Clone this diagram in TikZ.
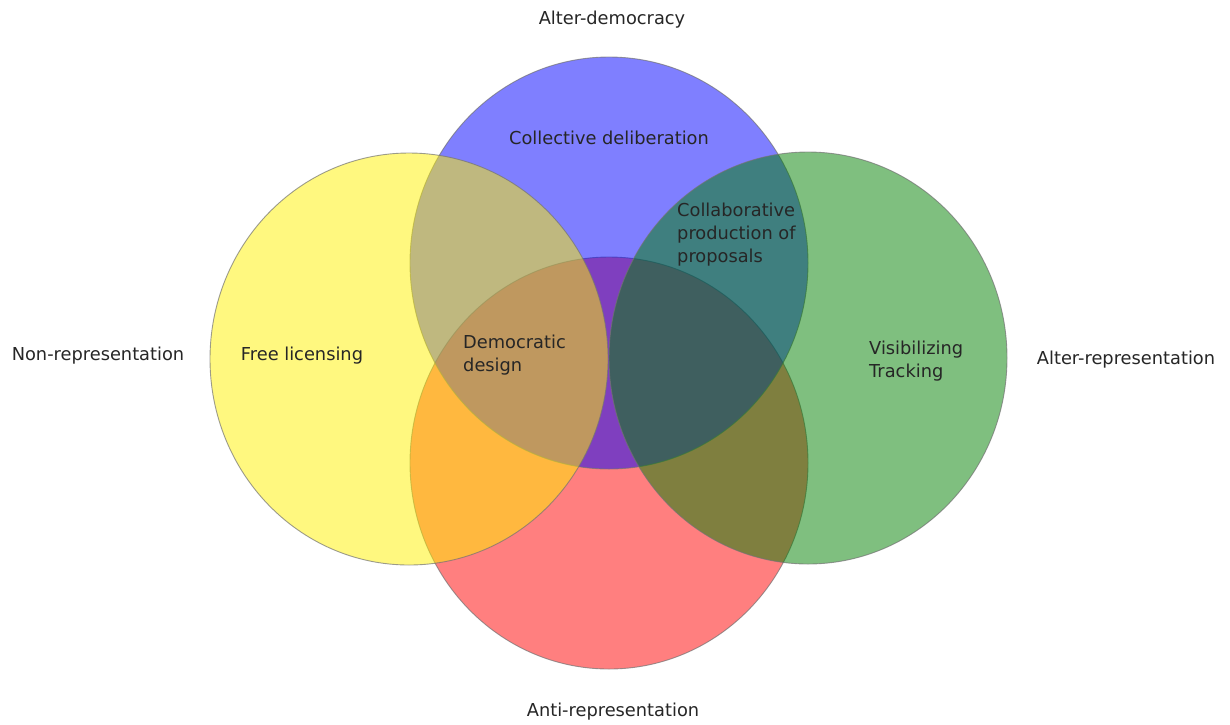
\documentclass[tikz,border=0pt]{standalone}
\usepackage{fontspec}
\setmainfont{DejaVu Sans}
\begin{document}
\begin{tikzpicture}[x=1pt, y=-1pt,
        venn/.style={draw=black!55, draw opacity=0.7, line width=0.9pt,
          fill opacity=0.5},
        lab/.style={font=\fontsize{17.8}{23}\selectfont, text=black!85,
          inner sep=0pt},
        inlab/.style={lab, align=left, anchor=west}
      ]
      \useasboundingbox (0,0) rectangle (1230,724);
      % circles, bottom to top
      \fill[white] (0,0) rectangle (1230,724);
      \draw[venn, fill=red]           (609,463) ellipse [x radius=199, y radius=206];
      \draw[venn, fill=blue]          (609,263) ellipse [x radius=199, y radius=206];
      \draw[venn, fill=yellow]        (409,359) ellipse [x radius=199, y radius=206];
      \draw[venn, fill=green!50!black] (808,358) ellipse [x radius=199, y radius=206];
      % outer labels
      \node[lab, anchor=base] (altdem)  at (612,24)  {Alter-democracy};
      \node[lab, anchor=base] (nonrep)  at (98,360)  {Non-representation};
      \node[lab, anchor=base] (altrep)  at (1126,364) {Alter-representation};
      \node[lab, anchor=base] (antirep) at (613,716) {Anti-representation};
      % inner labels
      \node[lab, anchor=base] (delib)   at (609,144) {Collective deliberation};
      \node[lab, anchor=base] (free)    at (302,360) {Free licensing};
      \node[inlab] (collab) at (677,235) {Collaborative\\production of\\proposals};
      \node[inlab] (design) at (463,355) {Democratic\\design};
      \node[inlab] (visib)  at (869,361) {Visibilizing\\Tracking};
    \end{tikzpicture}
\end{document}
